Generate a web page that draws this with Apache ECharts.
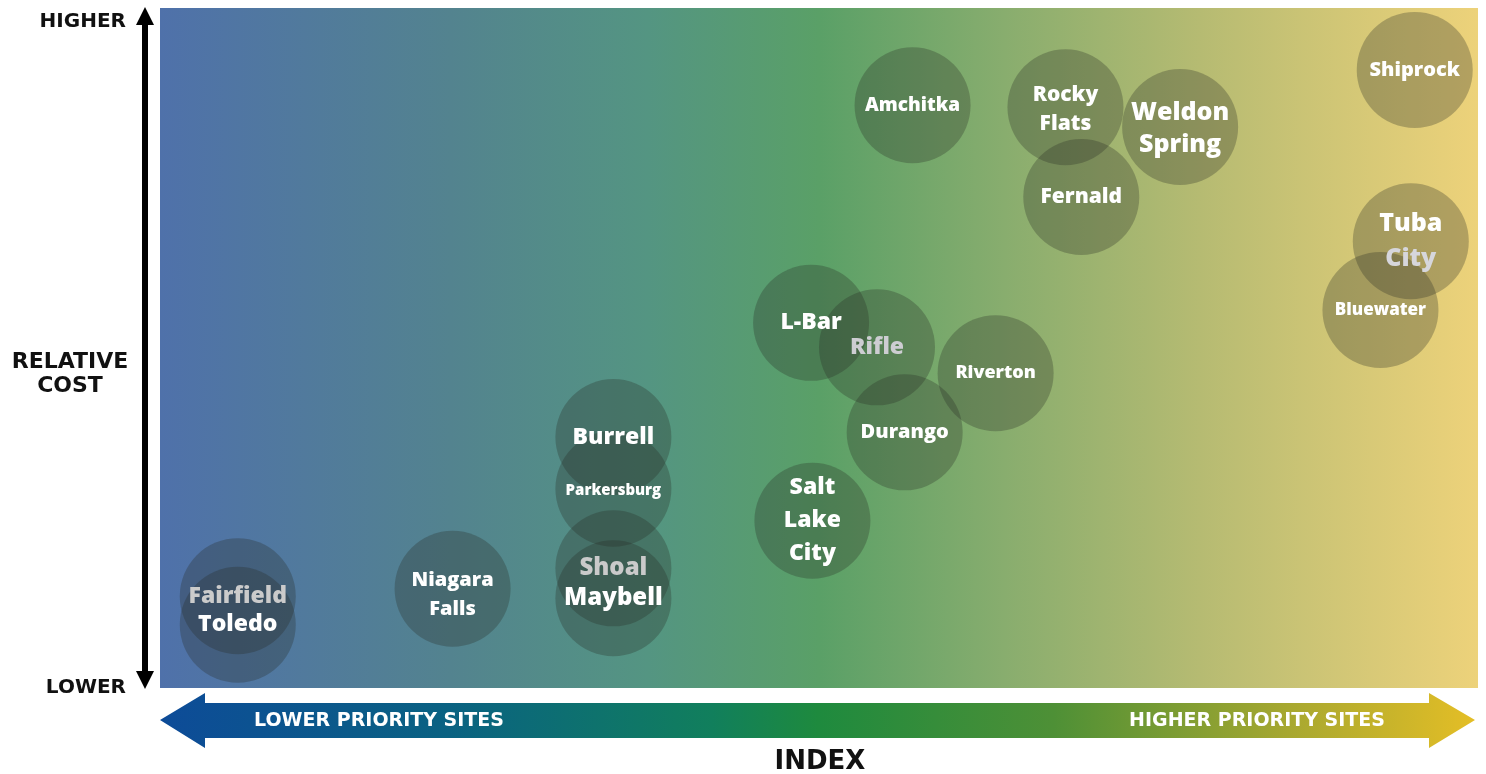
<!DOCTYPE html>
<html><head><meta charset="utf-8">
<script src="https://cdn.jsdelivr.net/npm/echarts@6/dist/echarts.min.js"></script>
<style>html,body{margin:0;padding:0;background:#fff}#c{width:1486px;height:774px}</style>
</head><body><div id="c"></div>
<script>
// ---- data ----
const sites = ['Shiprock','Amchitka','Rocky Flats','Weldon Spring','Fernald','Tuba City','Bluewater','L-Bar','Rifle','Riverton','Durango','Burrell','Parkersburg','Salt Lake City','Shoal','Maybell','Niagara Falls','Fairfield','Toledo'];
const priorityIndex = [95.2,57.1,68.7,77.4,69.9,94.9,92.6,49.4,54.4,63.4,56.5,34.4,34.4,49.5,34.4,34.4,22.2,5.9,5.9];
const relativeCost  = [90.9,85.7,85.4,82.5,72.2,65.7,55.6,53.7,50.1,46.3,37.6,36.9,29.3,24.6,17.6,13.2,14.6,13.5,9.3];
const costEnds = ['HIGHER','LOWER'];
const indexEnds = ['LOWER PRIORITY SITES','HIGHER PRIORITY SITES'];
const yTitle = 'RELATIVE\nCOST';
const xTitle = 'INDEX';

// ---- label styling (kept separate from data) ----
const labelStyle = {
  'Shiprock':{fs:20,lh:24},
  'Amchitka':{fs:19,lh:22},
  'Rocky Flats':{fs:21,lh:29,text:'Rocky\nFlats',dy:2},
  'Weldon Spring':{fs:25,lh:32,text:'Weldon\nSpring',dy:2},
  'Fernald':{fs:21,lh:24},
  'Tuba City':{fs:25,lh:35,rich:'{w|Tuba}\n{g|City}'},
  'Bluewater':{fs:17,lh:22},
  'L-Bar':{fs:23,lh:26},
  'Rifle':{fs:23,lh:26,color:'#cdcdd2'},
  'Riverton':{fs:18,lh:22},
  'Durango':{fs:20,lh:24},
  'Burrell':{fs:23,lh:26},
  'Parkersburg':{fs:15,lh:20,dy:2},
  'Salt Lake City':{fs:23,lh:33,text:'Salt\nLake\nCity'},
  'Shoal':{fs:24,lh:28,color:'#cacaca'},
  'Maybell':{fs:24,lh:28},
  'Niagara Falls':{fs:20,lh:29,text:'Niagara\nFalls',dy:6},
  'Fairfield':{fs:23,lh:26,color:'#cbcbcb'},
  'Toledo':{fs:23,lh:26}
};

const FONT = '"Open Sans", "Noto Sans", sans-serif';
const HEAD = '"DejaVu Sans", "Open Sans", sans-serif';
const points = sites.map((s,i)=>{
  const st = labelStyle[s];
  const lbl = {fontSize:st.fs, lineHeight:st.lh, color:st.color||'#ffffff', offset:[0, st.dy||0]};
  if (st.rich) {
    lbl.formatter = st.rich;
    lbl.rich = {
      w:{color:'#ffffff',fontSize:st.fs,lineHeight:st.lh,fontWeight:800,fontFamily:FONT},
      g:{color:'#d6d6dc',fontSize:st.fs,lineHeight:st.lh,fontWeight:800,fontFamily:FONT}
    };
  } else {
    lbl.formatter = st.text || s;
  }
  return {name:s, value:[priorityIndex[i], relativeCost[i]], label:lbl};
});

const chart = echarts.init(document.getElementById('c'), null, {renderer:'canvas'});
const bgGrad = new echarts.graphic.LinearGradient(0,0,1,0,[
  {offset:0,color:'#4f71aa'},
  {offset:0.22,color:'#53838f'},
  {offset:0.37,color:'#549582'},
  {offset:0.5,color:'#5aa067'},
  {offset:0.64,color:'#88ad6e'},
  {offset:0.79,color:'#b6bb72'},
  {offset:1,color:'#edd27a'}
]);
const arrowGrad = new echarts.graphic.LinearGradient(0,0,1,0,[
  {offset:0,color:'#0d4b98'},
  {offset:0.22,color:'#0a6282'},
  {offset:0.42,color:'#117f5c'},
  {offset:0.5,color:'#1e8a3e'},
  {offset:0.68,color:'#4e9036'},
  {offset:0.86,color:'#a8a830'},
  {offset:1,color:'#e4be26'}
]);

chart.setOption({
  animation:false,
  backgroundColor:'#ffffff',
  grid:{left:160,right:8,top:8,bottom:86,show:true,borderWidth:0,backgroundColor:bgGrad},
  xAxis:{type:'value',min:0,max:100,show:false},
  yAxis:{type:'value',min:0,max:100,show:false},
  series:[{
    type:'scatter',
    symbol:'circle',
    symbolSize:116,
    itemStyle:{color:'rgba(38,40,36,0.36)'},
    label:{show:true,position:'inside',fontFamily:FONT,fontWeight:800,align:'center',verticalAlign:'middle',textBorderWidth:0,textShadowBlur:0,opacity:1},
    emphasis:{disabled:true},
    data:points
  }],
  graphic:[
    // vertical double arrow
    {type:'rect',shape:{x:142,y:22,width:6,height:652},style:{fill:'#000'}},
    {type:'polygon',shape:{points:[[145,7],[136,25],[154,25]]},style:{fill:'#000'}},
    {type:'polygon',shape:{points:[[145,689],[136,671],[154,671]]},style:{fill:'#000'}},
    {type:'text',style:{text:costEnds[0],x:126,y:22,align:'right',verticalAlign:'middle',font:'bold 20px '+HEAD,fill:'#111'}},
    {type:'text',style:{text:costEnds[1],x:126,y:688,align:'right',verticalAlign:'middle',font:'bold 20px '+HEAD,fill:'#111'}},
    {type:'text',style:{text:yTitle,x:70,y:374,align:'center',verticalAlign:'middle',lineHeight:24,font:'bold 22px '+HEAD,fill:'#111'}},
    // horizontal gradient double arrow
    {type:'polygon',shape:{points:[[160,720],[205,693],[205,703],[1429,703],[1429,693],[1475,720],[1429,748],[1429,738],[205,738],[205,748]]},style:{fill:arrowGrad}},
    {type:'text',style:{text:indexEnds[0],x:379,y:721,align:'center',verticalAlign:'middle',font:'bold 19px '+HEAD,fill:'#ffffff'}},
    {type:'text',style:{text:indexEnds[1],x:1257,y:721,align:'center',verticalAlign:'middle',font:'bold 19px '+HEAD,fill:'#ffffff'}},
    {type:'text',style:{text:xTitle,x:820,y:762,align:'center',verticalAlign:'middle',font:'bold 26px '+HEAD,fill:'#111'}}
  ]
});
</script></body></html>
